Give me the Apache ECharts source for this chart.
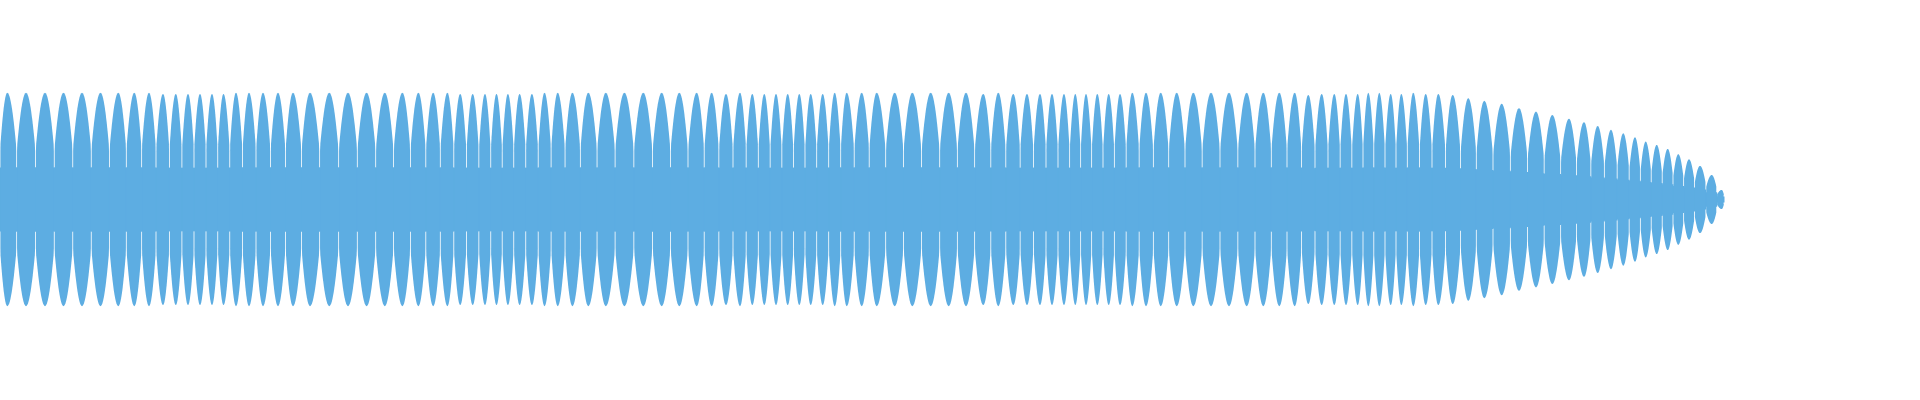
<!DOCTYPE html>
<html>
<head>
<meta charset="utf-8">
<script src="https://cdn.jsdelivr.net/npm/echarts@6/dist/echarts.min.js"></script>
<style>
html,body{margin:0;padding:0;background:#ffffff;}
#chart{width:1920px;height:400px;}
</style>
</head>
<body>
<div id="chart"></div>
<script>
// Centre (x) of each visible lobe of the waveform
const lobeX = [7.3, 26, 45, 63.5, 82, 100.5, 118.3, 134.3, 149, 163, 175.8, 188, 200, 212, 223.5, 236, 249, 263, 278, 293,
  310, 329.3, 348, 366.6, 384.8, 402.4, 418.4, 433.2, 447.4, 460.2, 472.7, 485, 496.5, 507.9, 519.6, 531.9, 544.5, 557.7, 572.4, 588.3,
  605.8, 624.4, 643.3, 661.7, 679.3, 696.7, 711.7, 726, 740, 752.3, 764.3, 776, 787.7, 799.3, 810.7, 822.7, 834.7, 846.7, 861.7, 876.7,
  894.7, 912.3, 930.7, 948.7, 966, 983.3, 998.3, 1013.3, 1027, 1040, 1052, 1064, 1075.3, 1086, 1097.3, 1108.7, 1120, 1132.3, 1146, 1160.7,
  1176.7, 1193.3, 1211, 1229, 1246.7, 1263.3, 1279.3, 1294.7, 1308.3, 1321.7, 1334.3, 1346, 1357.7, 1368.3, 1379.3, 1390.7, 1401.3, 1413.3, 1425.7, 1438.3,
  1452.7, 1468.3, 1484.3, 1501.7, 1519, 1536, 1552.3, 1569, 1584, 1597.7, 1611, 1623.3, 1635, 1645.7, 1656.7, 1667.7, 1678.3, 1689, 1700, 1711.7,
  1721.7];
// Peak amplitude of each lobe (1 = full scale)
const lobeAmp = [1, 1, 1, 1, 1, 1, 1, 1, 1, 0.99, 0.99, 0.99, 0.99, 0.99, 0.99, 1, 1, 1, 1, 1,
  1, 1, 1, 1, 1, 1, 1, 1, 1, 0.99, 0.99, 0.99, 0.99, 0.99, 0.99, 0.99, 1, 1, 1, 1,
  1, 1, 1, 1, 1, 1, 1, 0.99, 1, 0.99, 0.99, 0.99, 0.99, 0.99, 0.99, 0.99, 1, 1, 1, 1,
  1, 1, 1, 1, 1, 0.99, 1, 0.99, 0.99, 0.99, 0.99, 0.99, 0.99, 0.99, 0.99, 0.99, 0.99, 1, 1, 1,
  1, 1, 1, 1, 1, 1, 1, 1, 0.98, 0.99, 0.99, 0.99, 0.99, 1, 1, 0.99, 0.99, 1, 0.99, 0.99,
  0.98, 0.95, 0.925, 0.897, 0.856, 0.824, 0.793, 0.756, 0.725, 0.69, 0.653, 0.62, 0.584, 0.543, 0.512, 0.474, 0.425, 0.377, 0.315, 0.23,
  0.09];
// Level of the continuous core band between lobes, relative to lobe peak
const coreRatio = [0.3];
const signalStart = 0;
const signalEnd = 1724;
const xRange = [0, 1920];
const yRange = [-1.5, 1.5];

const COLOR = '#5dade2';
const K = 0.7;
const chart = echarts.init(document.getElementById('chart'), null, {renderer: 'canvas'});
const data = lobeX.map((x, i) => [x, lobeAmp[i], i]);

function renderItem(params, api) {
  const i = api.value(2);
  const c = api.value(0);
  const A = api.value(1);
  const xL = i > 0 ? (lobeX[i - 1] + c) / 2 : signalStart;
  const xR = i < lobeX.length - 1 ? (c + lobeX[i + 1]) / 2 : signalEnd;
  const T = coreRatio[0] * A;
  const gap = 0.4;
  const steps = 14;
  const env = (x) => {
    const u = x < c ? (x - c) / (c - xL) : (x - c) / (xR - c);
    return A * Math.cos(K * u * Math.PI / 2);
  };
  const xs = [];
  for (let s = 0; s <= steps; s++) xs.push(xL + (c - xL) * s / steps);
  for (let s = 1; s <= steps; s++) xs.push(c + (xR - c) * s / steps);
  const up = [], low = [];
  xs.forEach((x, k) => {
    let p = api.coord([x, env(x)]);
    let q = api.coord([x, -env(x)]);
    if (k === 0) { p[0] += gap; q[0] += gap; }
    if (k === xs.length - 1) { p[0] -= gap; q[0] -= gap; }
    up.push(p);
    low.push(q);
  });
  const pts = up.concat(low.reverse());
  const b1 = api.coord([xL, T]);
  const b2 = api.coord([xR, -T]);
  return {
    type: 'group',
    children: [
      {type: 'rect', shape: {x: b1[0] - 0.5, y: b1[1], width: b2[0] - b1[0] + 1, height: b2[1] - b1[1]}, style: {fill: COLOR}},
      {type: 'polygon', shape: {points: pts}, style: {fill: COLOR}}
    ]
  };
}

chart.setOption({
  animation: false,
  backgroundColor: '#ffffff',
  grid: {left: 0, right: 0, top: 39.5, height: 320},
  xAxis: {type: 'value', min: xRange[0], max: xRange[1], show: false},
  yAxis: {type: 'value', min: yRange[0], max: yRange[1], show: false},
  series: [{
    type: 'custom',
    renderItem: renderItem,
    data: data,
    encode: {x: 0, y: 1},
    clip: true,
    silent: true
  }]
});
</script>
</body>
</html>
